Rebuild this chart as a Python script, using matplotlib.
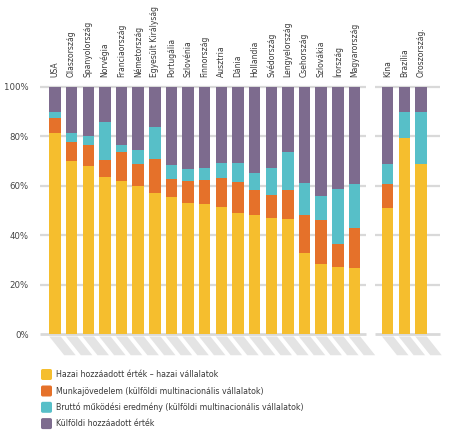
import matplotlib
matplotlib.use("Agg")
import matplotlib.pyplot as plt
from matplotlib.patches import Polygon, FancyBboxPatch
import numpy as np

plt.rcParams['font.family'] = ['DejaVu Sans']
plt.rcParams['font.stretch'] = 'condensed'

countries = ["USA", "Olaszország", "Spanyolország", "Norvégia", "Franciaország",
             "Németország", "Egyesült Királyság", "Portugália", "Szlovénia", "Finnország",
             "Ausztria", "Dánia", "Hollandia", "Svédország", "Lengyelország",
             "Csehország", "Szlovákia", "Írország", "Magyarország",
             "Kína", "Brazília", "Oroszország."]

# segment shares (%)
domestic = [81.3, 69.9, 67.9, 63.4, 62.1, 60.1, 57.2, 55.5, 53.2, 52.5,
            51.6, 48.8, 48.2, 47.0, 46.5, 32.9, 28.3, 27.3, 26.9,
            51.2, 79.3, 68.8]
labour = [6.1, 7.7, 8.5, 7.2, 11.6, 8.8, 13.8, 7.1, 8.6, 9.9,
          11.7, 12.7, 10.3, 9.4, 11.6, 15.3, 18.0, 9.2, 16.1,
          9.5, 0.0, 0.0]
surplus = [2.3, 3.9, 3.9, 15.3, 2.8, 5.7, 13.0, 5.7, 4.9, 4.7,
           5.8, 7.7, 6.6, 10.7, 15.4, 12.9, 9.7, 22.2, 17.9,
           8.0, 10.4, 20.9]
foreign = [100 - a - b - c for a, b, c in zip(domestic, labour, surplus)]

positions = list(range(19)) + [20, 21, 22]

legend_labels = ["Hazai hozzáadott érték – hazai vállalatok",
                 "Munkajövedelem (külföldi multinacionális vállalatok)",
                 "Bruttó működési eredmény (külföldi multinacionális vállalatok)",
                 "Külföldi hozzáadott érték"]
colors = ["#F5BE2E", "#E5712A", "#57BFC8", "#7D6B8E"]

yticks = [0, 20, 40, 60, 80, 100]

W, H = 449, 434
fig = plt.figure(figsize=(W / 100, H / 100), dpi=100)
ax = fig.add_axes([40 / W, (H - 334) / H, 400 / W, 247 / H])
ax.set_xlim(-0.9, 23.14)
ax.set_ylim(0, 100)

# gridlines (two segments)
for y in yticks:
    lw = 2.0 if y == 0 else 1.6
    ax.hlines(y, -0.9, 18.69, color="#d9d9d9", lw=lw, zorder=0, clip_on=False)
    ax.hlines(y, 19.23, 23.14, color="#d9d9d9", lw=lw, zorder=0, clip_on=False)

bw = 0.69
pos = np.array(positions)
series = [domestic, labour, surplus, foreign]
bottom = np.zeros(len(pos))
for vals, col in zip(series, colors):
    v = np.array(vals)
    ax.bar(pos, v, bottom=bottom, width=bw, color=col, linewidth=0, zorder=2)
    bottom += v

# decorative shadows under bars
dx, dy, top = 0.9, 7.6, -1.0
for p in pos:
    poly = Polygon([(p - bw / 2, top), (p + bw / 2, top),
                    (p + bw / 2 + dx, top - dy), (p - bw / 2 + dx, top - dy)],
                   closed=True, facecolor="#e4e4e4", edgecolor="none",
                   clip_on=False, zorder=1)
    ax.add_patch(poly)

# country labels on top
for p, c in zip(pos, countries):
    ax.text(p, 104.0, c, rotation=90, ha="center", va="bottom",
            fontsize=6.1, color="#3a3a3a")

ax.set_xticks([])
ax.set_yticks(yticks)
ax.set_yticklabels([f"{t}%" for t in yticks], fontsize=6.8, color="#444444")
ax.tick_params(axis="y", length=0, pad=8)
for s in ax.spines.values():
    s.set_visible(False)

# legend
rows = [374.5, 391.0, 407.3, 423.6]
for lab, col, yc in zip(legend_labels, colors, rows):
    sq = FancyBboxPatch((41 / W, (H - yc - 5.5) / H), 11 / W, 11 / H,
                        boxstyle="round,pad=0,rounding_size=0.004",
                        transform=fig.transFigure, facecolor=col,
                        edgecolor="none")
    fig.patches.append(sq)
    fig.text(56 / W, (H - yc) / H, lab, ha="left", va="center",
             fontsize=6.3, color="#3a3a3a")

fig.savefig("out.png", dpi=100)
